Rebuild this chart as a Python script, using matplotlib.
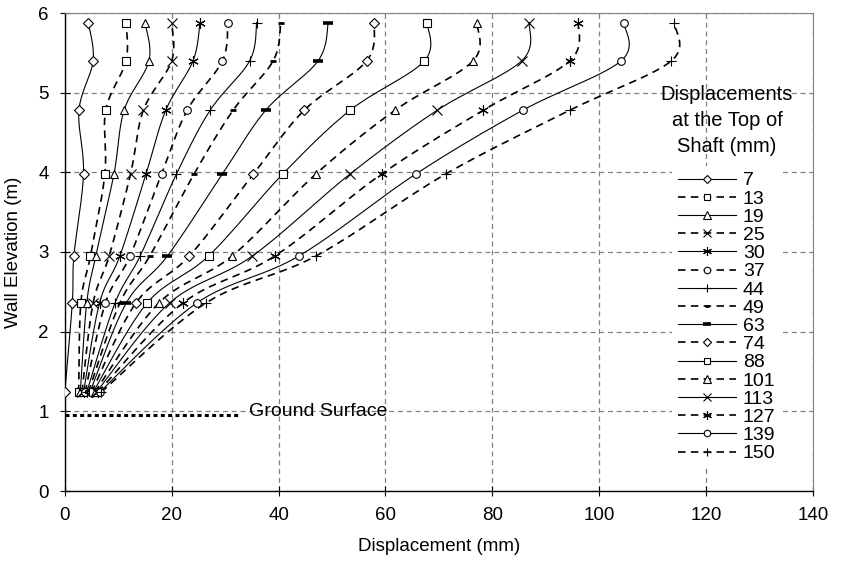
import numpy as np
import matplotlib
matplotlib.use("Agg")
import matplotlib.pyplot as plt
from matplotlib.lines import Line2D

plt.rcParams['font.family'] = ['Liberation Sans', 'DejaVu Sans']

# ---------------- data ----------------
elevations = [1.24, 2.36, 2.95, 3.98, 4.78, 5.40, 5.88]
series_labels = ["7", "13", "19", "25", "30", "37", "44", "49", "63",
                 "74", "88", "101", "113", "127", "139", "150"]
d7   = [0.0, 1.4, 1.7, 3.5, 2.65, 5.3, 4.4]
d13  = [2.6, 3.0, 4.8, 7.5, 7.65, 11.45, 11.45]
d19  = [2.9, 4.1, 5.8, 9.2, 11.1, 15.75, 15.0]
d25  = [3.2, 5.3, 8.3, 12.3, 14.7, 20.0, 20.0]
d30  = [3.5, 6.5, 10.3, 15.2, 18.9, 24.0, 25.3]
d37  = [3.8, 7.6, 12.2, 18.1, 22.9, 29.5, 30.5]
d44  = [4.1, 9.4, 14.1, 20.9, 27.2, 34.6, 35.9]
d49  = [4.4, 10.3, 15.9, 24.2, 31.5, 39.0, 40.4]
d63  = [4.7, 11.5, 19.2, 29.5, 37.6, 47.4, 49.3]
d74  = [5.0, 13.3, 23.3, 35.3, 44.8, 56.5, 57.9]
d88  = [5.3, 15.4, 26.9, 40.8, 53.4, 67.3, 67.8]
d101 = [5.6, 17.6, 31.3, 47.0, 61.8, 76.4, 77.1]
d113 = [5.9, 19.6, 35.1, 53.4, 69.7, 85.5, 86.9]
d127 = [6.2, 22.1, 39.3, 59.3, 78.3, 94.5, 96.1]
d139 = [6.5, 24.7, 43.8, 65.7, 85.7, 104.1, 104.6]
d150 = [6.8, 26.4, 47.0, 71.3, 94.5, 113.5, 114.0]
series_values = [d7, d13, d19, d25, d30, d37, d44, d49, d63,
                 d74, d88, d101, d113, d127, d139, d150]

ground_x = [0, 32.8]
ground_y = [0.95, 0.95]

x_ticks = [0, 20, 40, 60, 80, 100, 120, 140]
y_ticks = [0, 1, 2, 3, 4, 5, 6]

# ---------------- style ----------------
W, H = 841, 569
fig = plt.figure(figsize=(W / 100, H / 100), dpi=100)
L, R, T, B = 64.8, 813.0, 13.0, 491.0
ax = fig.add_axes([L / W, 1 - B / H, (R - L) / W, (B - T) / H])
ax.set_xlim(0, 140)
ax.set_ylim(0, 6)

def smooth(xs, ys, n=24):
    # Excel-like smoothed line (Catmull-Rom Bezier), computed in display scale
    sx, sy = (R - L) / 140.0, (B - T) / 6.0
    P = np.column_stack([np.asarray(xs) * sx, np.asarray(ys) * sy])
    out = [P[0]]
    m = len(P)
    t = np.linspace(0, 1, n)[1:, None]
    for i in range(m - 1):
        p0 = P[i - 1] if i > 0 else P[i]
        p1, p2 = P[i], P[i + 1]
        p3 = P[i + 2] if i + 2 < m else P[i + 1]
        c1 = p1 + (p2 - p0) / 6.0
        c2 = p2 - (p3 - p1) / 6.0
        seg = ((1 - t) ** 3) * p1 + 3 * ((1 - t) ** 2) * t * c1 + 3 * (1 - t) * t ** 2 * c2 + t ** 3 * p2
        out.extend(seg)
    out = np.array(out)
    return out[:, 0] / sx, out[:, 1] / sy

markers = ['D', 's', '^', 'x', (6, 2, 0), 'o', '+', '_', '_',
           'D', 's', '^', 'x', (6, 2, 0), 'o', '+']
msizes = [5, 5.5, 6, 6.5, 7.5, 5.5, 7.5, 4, 7,
          5, 5.5, 6, 6.5, 7.5, 5.5, 7.5]
mews = [0.8, 0.8, 0.8, 0.8, 0.8, 0.8, 0.8, 2.0, 2.6,
        0.8, 0.8, 0.8, 0.8, 0.8, 0.8, 0.8]
dashed = [i % 2 == 1 for i in range(16)]

handles = []
for i, (lab, vals) in enumerate(zip(series_labels, series_values)):
    sxv, syv = smooth(vals, elevations)
    if dashed[i]:
        ls = (0, (4.5, 3.2))
        lw = 1.2
    else:
        ls = '-'
        lw = 0.8
    ax.plot(sxv, syv, color='black', lw=lw, linestyle=ls, zorder=3)
    ax.plot(vals, elevations, linestyle='none', marker=markers[i],
            ms=msizes[i], mfc='white', mec='black', mew=mews[i], zorder=4)
    handles.append(Line2D([], [], color='black', lw=lw, linestyle=ls,
                          marker=markers[i], ms=msizes[i] * 0.85, mfc='white',
                          mec='black', mew=mews[i], label=lab))

ax.plot(ground_x, ground_y, color='black', lw=2.2, linestyle=(0, (1.3, 1.1)),
        solid_capstyle='butt', dash_capstyle='butt', zorder=3)
ax.text(34.5, 1.0, "Ground Surface", fontsize=14, va='center', ha='left', zorder=5)

# axes styling
ax.set_xticks(x_ticks)
ax.set_yticks(y_ticks)
ax.tick_params(direction='inout', length=7, width=0.8, labelsize=13.5, pad=8)
ax.grid(True, color='#808080', linestyle=(0, (4, 3)), lw=0.9)
ax.set_axisbelow(True)
for s in ['top', 'right']:
    ax.spines[s].set_color('#808080')
for s in ['left', 'bottom']:
    ax.spines[s].set_color('black')
    ax.spines[s].set_linewidth(1.0)
ax.set_xlabel("Displacement (mm)", fontsize=13.5, labelpad=10)
ax.set_ylabel("Wall Elevation (m)", fontsize=13.5, labelpad=12)

# legend title lines
for txt, yp in [("Displacements", 94), ("at the Top of", 121), ("Shaft (mm)", 147)]:
    fig.text(727 / W, 1 - yp / H, txt, fontsize=14.5, ha='center', va='center')

leg = ax.legend(handles=handles, loc='upper left',
                bbox_to_anchor=(672 / W, 1 - 166 / H), bbox_transform=fig.transFigure,
                frameon=True, facecolor='white', edgecolor='none', framealpha=1,
                fontsize=14, handlelength=3.0, handletextpad=0.35,
                labelspacing=0.03, borderpad=0.3, borderaxespad=0, fancybox=False)
leg.set_zorder(6)

fig.savefig("out.png", dpi=100)
